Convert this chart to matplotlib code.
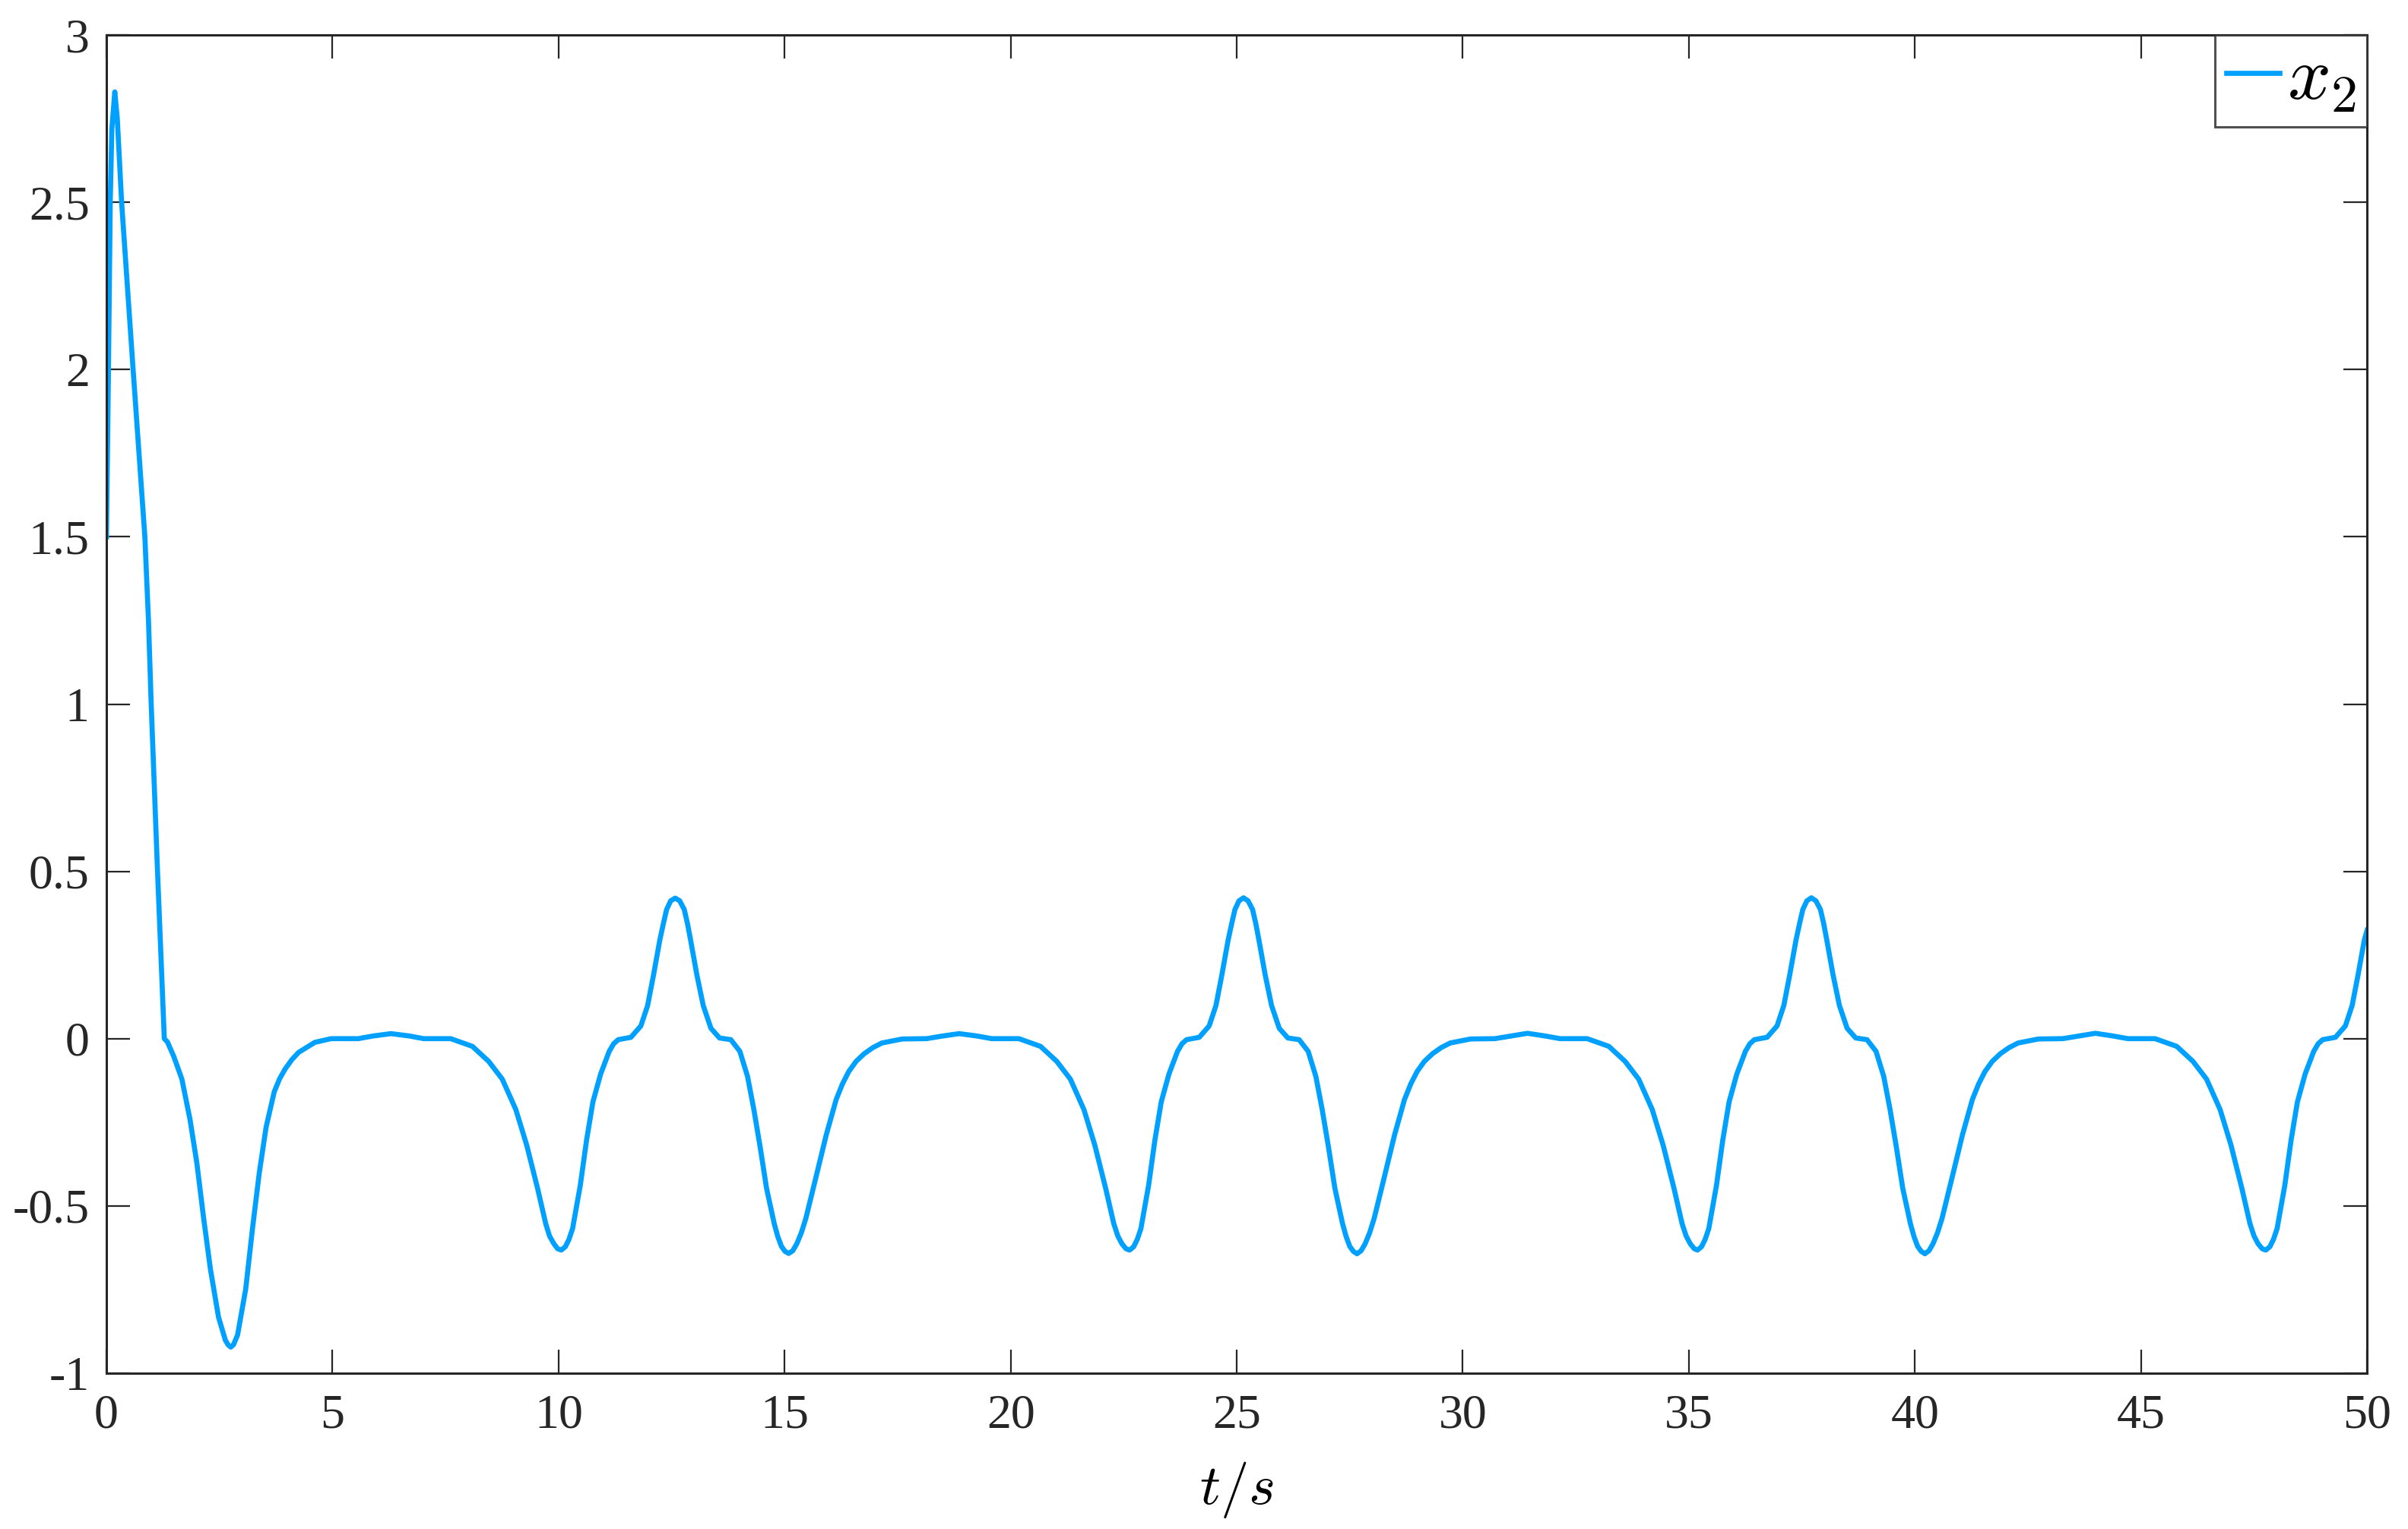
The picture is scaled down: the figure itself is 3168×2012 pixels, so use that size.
#!/usr/bin/env python3

import matplotlib
matplotlib.use('Agg')
import matplotlib.pyplot as plt

# response x_2, start-up transient
t_start = [0.0, 0.045, 0.084, 0.12, 0.185, 0.24, 0.336, 0.59, 0.72, 0.85, 0.93,
           0.99, 1.13, 1.28, 1.35, 1.489, 1.669, 1.849, 1.999, 2.15, 2.30, 2.48,
           2.63, 2.69, 2.75, 2.81, 2.90, 3.08, 3.23, 3.381, 3.531, 3.711, 3.83,
           3.951, 4.10, 4.251, 4.611, 4.972, 5.572, 5.90, 6.293, 6.70, 7.013,
           7.614, 8.094, 8.455, 8.755, 9.055, 9.295, 9.535, 9.716, 9.80, 9.896,
           9.98]
x2_start = [1.50, 2.00, 2.50, 2.72, 2.83, 2.75, 2.50, 2.00, 1.75, 1.50, 1.25,
            1.00, 0.50, 0.0, -0.01, -0.053, -0.121, -0.242, -0.371, -0.537,
            -0.689, -0.833, -0.901, -0.915, -0.922, -0.915, -0.886, -0.749,
            -0.568, -0.401, -0.265, -0.159, -0.12, -0.091, -0.063, -0.041,
            -0.011, 0.0, 0.0, 0.008, 0.015, 0.008, 0.0, 0.0, -0.023, -0.068,
            -0.121, -0.212, -0.318, -0.447, -0.553, -0.59, -0.613, -0.628]

# first steady cycle (10 - 22.6 s)
t_cyc1 = [10.06, 10.15, 10.23, 10.31, 10.48, 10.62, 10.76, 10.93, 11.12, 11.22,
          11.32, 11.60, 11.82, 11.97, 12.10, 12.24, 12.32, 12.39, 12.48, 12.58,
          12.68, 12.78, 12.85, 12.92, 13.06, 13.20, 13.37, 13.56, 13.81, 14.01,
          14.18, 14.32, 14.46, 14.60, 14.77, 14.85, 14.93, 15.01, 15.09, 15.18,
          15.27, 15.37, 15.47, 15.69, 15.92, 16.14, 16.28, 16.42, 16.58, 16.76,
          16.95, 17.15, 17.60, 18.14, 18.50, 18.86, 19.25, 19.58, 20.18, 20.66,
          21.02, 21.32, 21.62, 21.86, 22.10, 22.28, 22.37, 22.46, 22.55]
x2_cyc1 = [-0.632, -0.622, -0.60, -0.568, -0.439, -0.303, -0.189, -0.106,
           -0.038, -0.015, -0.003, 0.004, 0.038, 0.099, 0.190, 0.295, 0.345,
           0.386, 0.412, 0.420, 0.412, 0.386, 0.345, 0.295, 0.190, 0.099, 0.031,
           0.002, -0.003, -0.038, -0.113, -0.212, -0.325, -0.447, -0.553,
           -0.592, -0.621, -0.636, -0.642, -0.634, -0.613, -0.58, -0.537,
           -0.416, -0.288, -0.182, -0.135, -0.098, -0.068, -0.045, -0.027,
           -0.013, -0.001, 0.0, 0.008, 0.015, 0.008, 0.0, 0.0, -0.023, -0.068,
           -0.121, -0.212, -0.318, -0.447, -0.553, -0.59, -0.613, -0.628]

# second cycle (22.6 - 35.1 s)
t_cyc2 = [22.63, 22.72, 22.80, 22.88, 23.05, 23.19, 23.33, 23.50, 23.69, 23.79,
          23.89, 24.17, 24.39, 24.54, 24.67, 24.81, 24.89, 24.96, 25.05, 25.15,
          25.25, 25.35, 25.42, 25.49, 25.63, 25.77, 25.94, 26.13, 26.38, 26.58,
          26.75, 26.89, 27.03, 27.17, 27.34, 27.42, 27.50, 27.58, 27.66, 27.75,
          27.84, 27.94, 28.04, 28.26, 28.49, 28.71, 28.85, 28.99, 29.15, 29.33,
          29.52, 29.72, 30.17, 30.71, 31.07, 31.43, 31.82, 32.15, 32.75, 33.23,
          33.59, 33.89, 34.19, 34.43, 34.67, 34.85, 34.94, 35.03, 35.12]
x2_cyc2 = [-0.632, -0.622, -0.60, -0.568, -0.439, -0.303, -0.189, -0.106,
           -0.038, -0.015, -0.003, 0.004, 0.038, 0.099, 0.190, 0.295, 0.345,
           0.386, 0.412, 0.421, 0.412, 0.386, 0.345, 0.295, 0.190, 0.099, 0.031,
           0.002, -0.003, -0.038, -0.113, -0.212, -0.325, -0.447, -0.553,
           -0.592, -0.621, -0.636, -0.643, -0.634, -0.613, -0.58, -0.537,
           -0.416, -0.288, -0.182, -0.135, -0.098, -0.068, -0.045, -0.027,
           -0.013, -0.001, 0.0, 0.008, 0.016, 0.008, 0.0, 0.0, -0.023, -0.068,
           -0.121, -0.212, -0.318, -0.447, -0.553, -0.59, -0.613, -0.628]

# third cycle (35.1 - 47.7 s)
t_cyc3 = [35.19, 35.28, 35.36, 35.44, 35.61, 35.75, 35.89, 36.06, 36.25, 36.35,
          36.45, 36.73, 36.95, 37.10, 37.23, 37.37, 37.45, 37.52, 37.61, 37.71,
          37.81, 37.91, 37.98, 38.05, 38.19, 38.33, 38.50, 38.69, 38.94, 39.14,
          39.31, 39.45, 39.59, 39.73, 39.90, 39.98, 40.06, 40.14, 40.22, 40.31,
          40.40, 40.50, 40.60, 40.82, 41.05, 41.27, 41.41, 41.55, 41.71, 41.89,
          42.08, 42.28, 42.73, 43.27, 43.63, 43.99, 44.38, 44.71, 45.31, 45.79,
          46.15, 46.45, 46.75, 46.99, 47.23, 47.41, 47.50, 47.59, 47.68]
x2_cyc3 = [-0.632, -0.622, -0.60, -0.568, -0.439, -0.303, -0.189, -0.106,
           -0.038, -0.015, -0.003, 0.004, 0.038, 0.099, 0.190, 0.295, 0.345,
           0.386, 0.412, 0.421, 0.412, 0.386, 0.345, 0.295, 0.190, 0.099, 0.031,
           0.002, -0.003, -0.038, -0.113, -0.212, -0.325, -0.447, -0.553,
           -0.592, -0.621, -0.636, -0.643, -0.634, -0.613, -0.58, -0.537,
           -0.416, -0.288, -0.182, -0.135, -0.098, -0.068, -0.045, -0.027,
           -0.013, -0.001, 0.0, 0.008, 0.016, 0.008, 0.0, 0.0, -0.023, -0.068,
           -0.121, -0.212, -0.318, -0.447, -0.553, -0.59, -0.613, -0.628]

# last partial cycle up to 50 s
t_end = [47.76, 47.85, 47.93, 48.01, 48.18, 48.32, 48.46, 48.63, 48.82, 48.92,
         49.02, 49.30, 49.52, 49.67, 49.80, 49.94, 50.0]
x2_end = [-0.632, -0.622, -0.60, -0.568, -0.439, -0.303, -0.189, -0.106,
          -0.038, -0.015, -0.003, 0.004, 0.038, 0.099, 0.190, 0.295, 0.324]

x_ticks = [0, 5, 10, 15, 20, 25, 30, 35, 40, 45, 50]
y_ticks = [-1, -0.5, 0, 0.5, 1, 1.5, 2, 2.5, 3]
y_tick_labels = ['-1', '-0.5', '0', '0.5', '1', '1.5', '2', '2.5', '3']

LINE_COLOR = '#00A0FF'
AXIS_COLOR = '#262626'


def build_series():
    t = t_start + t_cyc1 + t_cyc2 + t_cyc3 + t_end
    x = x2_start + x2_cyc1 + x2_cyc2 + x2_cyc3 + x2_end
    return t, x


def export_chart(path):
    plt.rcParams['font.family'] = ['Liberation Serif', 'DejaVu Serif']
    plt.rcParams['mathtext.fontset'] = 'cm'
    plt.rcParams['axes.unicode_minus'] = False

    fig = plt.figure(figsize=(15.84, 10.06), dpi=200)
    ax = fig.add_axes([0.0442, 0.1019, 0.9388, 0.8752])

    t, x = build_series()
    ax.plot(t, x, color=LINE_COLOR, linewidth=2.4, label=r'$x_2$',
            solid_joinstyle='round')

    ax.set_xlim(0, 50)
    ax.set_ylim(-1, 3)
    ax.set_xticks(x_ticks)
    ax.set_xticklabels([str(v) for v in x_ticks])
    ax.set_yticks(y_ticks)
    ax.set_yticklabels(y_tick_labels)

    ax.tick_params(direction='in', top=True, right=True, length=11,
                   width=0.8, color=AXIS_COLOR, labelcolor=AXIS_COLOR,
                   labelsize=23)
    ax.tick_params(axis='x', pad=10)
    ax.tick_params(axis='y', pad=8)
    for spine in ax.spines.values():
        spine.set_linewidth(1.1)
        spine.set_color(AXIS_COLOR)

    ax.set_xlabel(r'$t/s$', fontsize=27, labelpad=10)

    leg = ax.legend(loc='upper right', fontsize=36, frameon=True,
                    fancybox=False, borderaxespad=0, borderpad=0.15,
                    handlelength=0.7, handletextpad=0.1)
    leg.get_frame().set_edgecolor(AXIS_COLOR)
    leg.get_frame().set_linewidth(1.1)

    fig.savefig(path, dpi=200)
    plt.close(fig)


if __name__ == '__main__':
    export_chart('out.png')
